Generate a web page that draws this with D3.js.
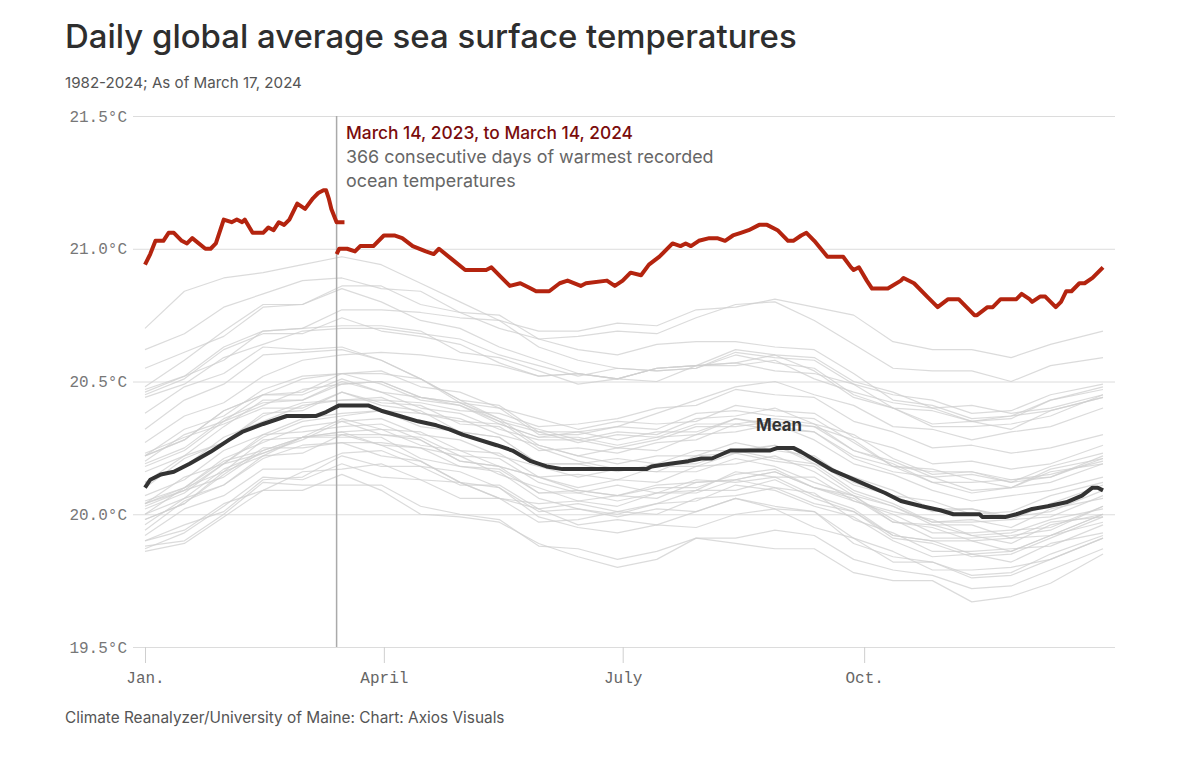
<!DOCTYPE html>
<html><head><meta charset="utf-8">
<script src="https://cdn.jsdelivr.net/npm/d3@7/dist/d3.min.js"></script>
<style>body{margin:0;background:#fff}svg{display:block}</style>
</head><body><svg id="chart" width="1200" height="764"></svg>
<script>
// ---------- DATA ----------
const monthTicks = [0, 91, 182, 274];
const monthLabels = ["Jan.", "April", "July", "Oct."];
const yTicks = [19.5, 20.0, 20.5, 21.0, 21.5];

// red: 2024 (Jan 1 – Mar 17) as [dayOfYear, °C]
const red2024 = [[0,20.94],[2,20.98],[4,21.03],[7,21.03],[9,21.06],[11,21.06],[14,21.03],[16,21.02],[18,21.04],[23,21.00],[25,21.00],[27,21.02],[30,21.11],[33,21.10],[35,21.11],[37,21.10],[38,21.11],[41,21.06],[45,21.06],[47,21.08],[49,21.07],[51,21.10],[53,21.09],[55,21.11],[58,21.17],[61,21.15],[64,21.19],[66,21.21],[68,21.22],[69,21.22],[70,21.19],[71,21.15],[73,21.10],[76,21.10]];
// red: 2023 (Mar 14 – Dec 31)
const red2023 = [[73,20.98],[74,21.00],[77,21.00],[80,20.99],[82,21.01],[87,21.01],[91,21.05],[95,21.05],[98,21.04],[102,21.01],[107,20.99],[110,20.98],[112,21.00],[117,20.96],[122,20.92],[130,20.92],[132,20.93],[135,20.90],[139,20.86],[143,20.87],[147,20.85],[149,20.84],[154,20.84],[158,20.87],[161,20.88],[166,20.86],[168,20.87],[176,20.88],[179,20.86],[182,20.88],[185,20.91],[189,20.90],[192,20.94],[196,20.97],[201,21.02],[204,21.01],[206,21.02],[208,21.01],[211,21.03],[215,21.04],[218,21.04],[221,21.03],[224,21.05],[227,21.06],[230,21.07],[234,21.09],[237,21.09],[241,21.07],[245,21.03],[247,21.03],[250,21.05],[252,21.06],[255,21.03],[260,20.97],[266,20.97],[269,20.93],[270,20.92],[272,20.93],[275,20.88],[277,20.85],[283,20.85],[288,20.88],[289,20.89],[293,20.87],[298,20.82],[302,20.78],[306,20.81],[310,20.81],[316,20.75],[317,20.75],[321,20.78],[323,20.78],[326,20.81],[332,20.81],[334,20.83],[337,20.81],[338,20.80],[341,20.82],[343,20.82],[347,20.78],[349,20.80],[351,20.84],[353,20.84],[356,20.87],[358,20.87],[361,20.89],[365,20.93]];
// mean
const meanSeries = [[0,20.10],[2,20.13],[6,20.15],[11,20.16],[17,20.19],[25,20.235],[32,20.28],[37,20.31],[45,20.34],[54,20.37],[65,20.37],[69,20.385],[74,20.41],[85,20.41],[90,20.39],[97,20.37],[104,20.35],[111,20.335],[116,20.32],[121,20.30],[134,20.26],[140,20.24],[147,20.20],[153,20.18],[159,20.17],[191,20.17],[193,20.18],[200,20.19],[207,20.20],[212,20.21],[216,20.21],[223,20.24],[238,20.24],[241,20.25],[247,20.25],[250,20.235],[256,20.20],[262,20.165],[268,20.14],[275,20.11],[282,20.08],[288,20.05],[296,20.03],[303,20.015],[308,20.00],[318,20.00],[319,19.99],[328,19.99],[332,20.00],[338,20.02],[344,20.03],[351,20.045],[357,20.07],[361,20.10],[363,20.10],[365,20.09]];

// gray years (1982–2022), sampled on these days
const grayDays = [0,15,30,45,60,75,90,105,120,135,150,165,180,195,210,225,240,255,270,285,300,315,330,345,365];
const y1982 = [19.90,19.94,20.04,20.09,20.16,20.17,20.19,20.13,20.12,20.06,20.04,20.05,20.03,20.08,20.09,20.16,20.14,20.14,20.05,20.01,19.98,19.92,19.93,19.98,20.02];
const y1983 = [20.05,20.10,20.20,20.24,20.29,20.29,20.29,20.21,20.18,20.16,20.06,20.02,19.99,20.02,20.01,20.06,20.02,20.01,19.89,19.84,19.82,19.76,19.77,19.83,19.91];
const y1984 = [19.88,19.90,20.00,20.12,20.11,20.11,20.11,20.03,20.00,19.98,19.88,19.87,19.83,19.86,19.91,19.91,19.94,19.92,19.83,19.79,19.77,19.72,19.73,19.79,19.87];
const y1985 = [19.86,19.89,19.99,20.09,20.09,20.15,20.09,20.00,19.99,19.97,19.89,19.84,19.80,19.83,19.91,19.89,19.87,19.87,19.78,19.75,19.75,19.67,19.69,19.74,19.85];
const y1986 = [19.87,19.93,20.03,20.14,20.13,20.19,20.14,20.13,20.06,20.06,19.97,19.98,20.01,20.00,20.06,20.07,20.10,20.04,20.01,19.92,19.90,19.90,19.86,19.92,20.00];
const y1987 = [20.00,20.10,20.16,20.28,20.29,20.36,20.32,20.31,20.24,20.23,20.14,20.15,20.13,20.18,20.18,20.23,20.20,20.18,20.08,20.03,19.96,19.96,19.91,19.97,19.99];
const y1988 = [19.98,20.04,20.16,20.22,20.29,20.31,20.26,20.20,20.12,20.10,19.99,19.95,19.93,19.96,19.95,20.00,20.02,19.95,19.91,19.82,19.82,19.77,19.78,19.85,19.92];
const y1989 = [19.90,19.96,20.01,20.13,20.14,20.22,20.18,20.18,20.11,20.11,20.02,20.04,20.01,20.04,20.09,20.09,20.13,20.06,20.01,19.91,19.89,19.84,19.85,19.91,19.99];
const y1990 = [20.02,20.08,20.19,20.23,20.28,20.35,20.30,20.28,20.20,20.18,20.14,20.09,20.07,20.11,20.12,20.13,20.16,20.10,20.07,19.98,19.91,19.91,19.92,19.94,20.03];
const y1991 = [20.03,20.09,20.14,20.24,20.29,20.30,20.30,20.29,20.22,20.21,20.12,20.08,20.11,20.08,20.13,20.12,20.14,20.07,20.02,19.92,19.90,19.85,19.86,19.92,19.97];
const y1992 = [19.98,20.04,20.15,20.25,20.25,20.27,20.22,20.20,20.12,20.06,20.02,19.96,19.98,19.96,20.01,20.06,20.03,20.01,19.91,19.86,19.79,19.79,19.80,19.83,19.91];
const y1993 = [19.92,20.02,20.07,20.17,20.17,20.23,20.24,20.18,20.16,20.10,20.01,20.02,20.00,20.04,20.05,20.11,20.09,20.03,19.99,19.90,19.84,19.85,19.82,19.89,19.93];
const y1994 = [19.94,20.05,20.11,20.22,20.23,20.30,20.26,20.25,20.18,20.17,20.08,20.09,20.07,20.06,20.12,20.13,20.16,20.10,20.06,19.97,19.96,19.92,19.89,19.96,20.00];
const y1995 = [20.04,20.09,20.19,20.30,20.31,20.33,20.34,20.28,20.20,20.18,20.08,20.08,20.05,20.08,20.08,20.13,20.10,20.08,19.98,19.93,19.86,19.86,19.87,19.88,19.96];
const y1996 = [19.96,20.06,20.11,20.21,20.26,20.27,20.27,20.25,20.22,20.15,20.10,20.05,20.07,20.10,20.10,20.15,20.17,20.10,20.05,20.00,19.93,19.93,19.94,19.95,20.03];
const y1997 = [20.04,20.14,20.19,20.29,20.35,20.37,20.39,20.38,20.35,20.34,20.29,20.31,20.33,20.38,20.43,20.48,20.50,20.45,20.41,20.33,20.32,20.28,20.31,20.33,20.40];
const y1998 = [20.38,20.48,20.53,20.63,20.62,20.63,20.58,20.51,20.42,20.35,20.25,20.20,20.17,20.16,20.16,20.21,20.18,20.12,20.07,19.97,19.95,19.90,19.91,19.92,20.00];
const y1999 = [20.00,20.06,20.17,20.23,20.29,20.31,20.32,20.26,20.24,20.18,20.14,20.10,20.13,20.12,20.18,20.19,20.22,20.16,20.07,20.03,19.97,19.98,19.95,20.02,20.06];
const y2000 = [20.04,20.10,20.21,20.27,20.33,20.35,20.36,20.30,20.28,20.22,20.18,20.14,20.17,20.16,20.22,20.23,20.26,20.20,20.11,20.07,20.01,20.02,19.99,20.01,20.09];
const y2001 = [20.10,20.21,20.27,20.38,20.39,20.46,20.42,20.41,20.34,20.33,20.24,20.25,20.23,20.27,20.28,20.34,20.32,20.31,20.22,20.18,20.12,20.08,20.10,20.12,20.19];
const y2002 = [20.18,20.24,20.35,20.41,20.47,20.49,20.50,20.44,20.42,20.36,20.32,20.28,20.31,20.30,20.36,20.37,20.40,20.34,20.30,20.21,20.15,20.16,20.13,20.15,20.20];
const y2003 = [20.22,20.28,20.39,20.45,20.46,20.53,20.49,20.43,20.41,20.35,20.31,20.27,20.30,20.29,20.30,20.36,20.34,20.33,20.24,20.20,20.14,20.15,20.12,20.14,20.21];
const y2004 = [20.20,20.30,20.35,20.45,20.45,20.51,20.46,20.44,20.41,20.34,20.29,20.29,20.26,20.29,20.34,20.34,20.36,20.34,20.24,20.19,20.12,20.12,20.13,20.14,20.22];
const y2005 = [20.22,20.32,20.37,20.47,20.52,20.53,20.53,20.51,20.43,20.41,20.31,20.31,20.28,20.31,20.31,20.36,20.33,20.31,20.21,20.16,20.14,20.09,20.10,20.16,20.19];
const y2006 = [20.19,20.25,20.36,20.42,20.43,20.50,20.46,20.40,20.38,20.32,20.28,20.28,20.25,20.28,20.33,20.33,20.35,20.33,20.28,20.18,20.16,20.16,20.12,20.18,20.23];
const y2007 = [20.23,20.29,20.34,20.40,20.40,20.46,20.41,20.39,20.31,20.29,20.19,20.19,20.16,20.19,20.19,20.24,20.21,20.19,20.09,20.04,19.97,19.97,19.98,19.99,20.07];
const y2008 = [20.07,20.13,20.24,20.30,20.36,20.38,20.39,20.33,20.31,20.29,20.19,20.19,20.21,20.19,20.24,20.24,20.26,20.19,20.14,20.09,20.02,20.02,19.98,20.04,20.11];
const y2009 = [20.12,20.22,20.27,20.37,20.42,20.43,20.43,20.42,20.39,20.38,20.33,20.34,20.36,20.40,20.41,20.47,20.45,20.44,20.35,20.31,20.25,20.26,20.23,20.25,20.30];
const y2010 = [20.32,20.43,20.49,20.60,20.61,20.62,20.58,20.51,20.43,20.36,20.26,20.22,20.19,20.22,20.22,20.27,20.24,20.22,20.12,20.07,20.05,20.00,20.01,20.07,20.12];
const y2011 = [20.12,20.18,20.29,20.35,20.41,20.43,20.44,20.38,20.36,20.30,20.26,20.22,20.25,20.24,20.30,20.31,20.34,20.28,20.19,20.15,20.09,20.05,20.07,20.09,20.14];
const y2012 = [20.16,20.22,20.33,20.43,20.43,20.49,20.50,20.44,20.42,20.40,20.30,20.30,20.33,20.32,20.38,20.39,20.37,20.36,20.27,20.18,20.17,20.13,20.10,20.17,20.21];
const y2013 = [20.22,20.28,20.39,20.45,20.51,20.53,20.54,20.48,20.46,20.40,20.36,20.32,20.35,20.34,20.35,20.41,20.39,20.38,20.29,20.25,20.19,20.20,20.17,20.19,20.26];
const y2014 = [20.27,20.37,20.42,20.52,20.58,20.60,20.61,20.60,20.58,20.56,20.52,20.53,20.51,20.55,20.56,20.62,20.60,20.59,20.50,20.46,20.40,20.41,20.38,20.40,20.45];
const y2015 = [20.46,20.52,20.63,20.69,20.70,20.77,20.77,20.76,20.74,20.73,20.69,20.69,20.72,20.71,20.77,20.78,20.81,20.78,20.75,20.65,20.62,20.62,20.59,20.64,20.69];
const y2016 = [20.70,20.84,20.89,20.91,20.94,20.97,20.94,20.87,20.80,20.73,20.63,20.58,20.55,20.54,20.55,20.60,20.57,20.55,20.45,20.40,20.33,20.33,20.34,20.37,20.45];
const y2017 = [20.48,20.58,20.69,20.79,20.79,20.85,20.80,20.73,20.70,20.63,20.58,20.53,20.51,20.55,20.56,20.56,20.58,20.51,20.46,20.42,20.40,20.35,20.36,20.43,20.47];
const y2018 = [20.44,20.49,20.59,20.64,20.69,20.70,20.70,20.68,20.66,20.60,20.56,20.52,20.55,20.54,20.55,20.61,20.59,20.58,20.49,20.45,20.43,20.38,20.39,20.45,20.49];
const y2019 = [20.55,20.61,20.67,20.78,20.79,20.86,20.86,20.79,20.76,20.75,20.66,20.67,20.69,20.68,20.74,20.79,20.80,20.73,20.64,20.55,20.54,20.54,20.50,20.56,20.59];
const y2020 = [20.62,20.68,20.78,20.83,20.88,20.89,20.85,20.84,20.76,20.70,20.66,20.62,20.60,20.64,20.65,20.65,20.63,20.62,20.53,20.43,20.41,20.36,20.37,20.43,20.48];
const y2021 = [20.47,20.52,20.58,20.69,20.70,20.71,20.71,20.69,20.61,20.59,20.54,20.49,20.51,20.55,20.56,20.57,20.60,20.54,20.44,20.40,20.34,20.35,20.32,20.39,20.44];
const y2022 = [20.45,20.51,20.62,20.68,20.68,20.74,20.69,20.67,20.64,20.57,20.52,20.53,20.51,20.50,20.56,20.57,20.54,20.53,20.49,20.40,20.39,20.35,20.37,20.39,20.44];
const grayYears = [y1982,y1983,y1984,y1985,y1986,y1987,y1988,y1989,y1990,y1991,y1992,y1993,y1994,y1995,y1996,y1997,y1998,y1999,y2000,y2001,y2002,y2003,y2004,y2005,y2006,y2007,y2008,y2009,y2010,y2011,y2012,y2013,y2014,y2015,y2016,y2017,y2018,y2019,y2020,y2021,y2022];

// ---------- CHART ----------
const svg = d3.select("#chart");
const sans = "Inter, 'Noto Sans', sans-serif";
const mono = "'Liberation Mono', 'DejaVu Sans Mono', monospace";

const x = d3.scaleLinear().domain([0, 365]).range([145, 1103]);
const y = d3.scaleLinear().domain([19.5, 21.5]).range([647, 116]);
const gridLeft = 133, gridRight = 1115;

function fit(sel, target) {
  const n = sel.node();
  const fs = parseFloat(sel.attr("font-size"));
  const w = n.getComputedTextLength();
  if (w > 0) sel.attr("font-size", (fs * target / w).toFixed(2));
}

// title etc
fit(svg.append("text").attr("x", 65).attr("y", 48).attr("font-family", sans).attr("font-weight", 500)
  .attr("font-size", 33).attr("fill", "#2e2e2e").text("Daily global average sea surface temperatures"), 732);
fit(svg.append("text").attr("x", 65).attr("y", 88).attr("font-family", sans)
  .attr("font-size", 15).attr("fill", "#555").text("1982-2024; As of March 17, 2024"), 237);
fit(svg.append("text").attr("x", 65).attr("y", 723).attr("font-family", sans)
  .attr("font-size", 15).attr("fill", "#555").text("Climate Reanalyzer/University of Maine: Chart: Axios Visuals"), 440);

// y axis + grid
const yAxis = svg.append("g").attr("transform", `translate(${gridLeft},0)`)
  .call(d3.axisLeft(y).tickValues(yTicks).tickSize(-(gridRight - gridLeft)).tickPadding(6)
    .tickFormat(d => d.toFixed(1) + "°C"));
yAxis.select(".domain").remove();
yAxis.selectAll(".tick line").attr("stroke", "#dcdcdc").attr("stroke-width", 1);
yAxis.selectAll(".tick text").attr("font-family", mono).attr("font-size", 16).attr("fill", "#777");

// x axis
const xAxis = svg.append("g").attr("transform", `translate(0,${y(19.5)})`)
  .call(d3.axisBottom(x).tickValues(monthTicks).tickSize(16).tickPadding(9)
    .tickFormat((d, i) => monthLabels[i]));
xAxis.select(".domain").remove();
xAxis.selectAll(".tick line").attr("stroke", "#cfcfcf");
xAxis.selectAll(".tick text").attr("font-family", mono).attr("font-size", 16).attr("fill", "#666");

// gray lines
const grayLine = d3.line().x((d, i) => x(grayDays[i])).y(d => y(d));
svg.append("g").selectAll("path").data(grayYears).join("path")
  .attr("d", grayLine).attr("fill", "none").attr("stroke", "#cfcfcf")
  .attr("stroke-opacity", 0.75).attr("stroke-width", 1.2).attr("stroke-linejoin", "round");

// vertical marker
svg.append("line").attr("x1", x(73)).attr("x2", x(73)).attr("y1", y(21.5)).attr("y2", y(19.5))
  .attr("stroke", "#aaa").attr("stroke-width", 1.5);

const pairLine = d3.line().x(d => x(d[0])).y(d => y(d[1]));
// mean
svg.append("path").datum(meanSeries).attr("d", pairLine).attr("fill", "none")
  .attr("stroke", "#333").attr("stroke-width", 4).attr("stroke-linejoin", "round");
// red
[red2024, red2023].forEach(s => svg.append("path").datum(s).attr("d", pairLine).attr("fill", "none")
  .attr("stroke", "#b4240f").attr("stroke-width", 4).attr("stroke-linejoin", "round"));

// labels
fit(svg.append("text").attr("x", 756).attr("y", 431).attr("font-family", sans).attr("font-weight", 700)
  .attr("font-size", 16).attr("fill", "#333").text("Mean"), 46);
fit(svg.append("text").attr("x", 346).attr("y", 139).attr("font-family", sans).attr("font-weight", 500)
  .attr("font-size", 18).attr("fill", "#7a0c0c").text("March 14, 2023, to March 14, 2024"), 287);
const a2 = svg.append("text").attr("x", 346).attr("y", 163).attr("font-family", sans)
  .attr("font-size", 18).attr("fill", "#666").text("366 consecutive days of warmest recorded");
fit(a2, 368);
svg.append("text").attr("x", 346).attr("y", 187).attr("font-family", sans)
  .attr("font-size", a2.attr("font-size")).attr("fill", "#666").text("ocean temperatures");
</script></body></html>
